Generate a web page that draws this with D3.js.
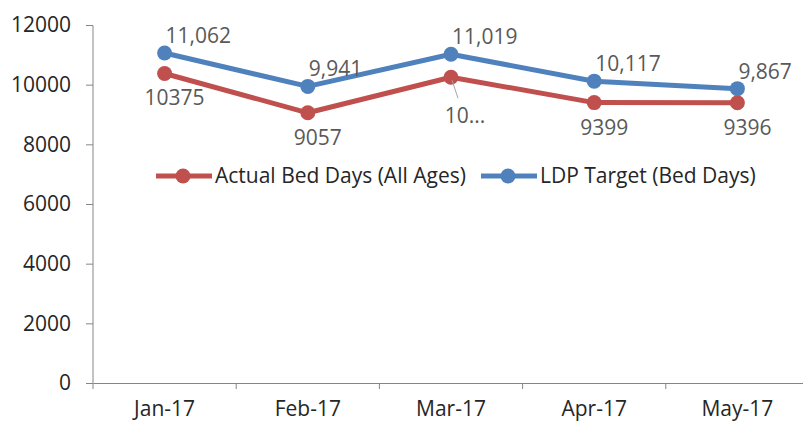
<!DOCTYPE html>
<html>
<head>
<meta charset="utf-8">
<script src="https://cdn.jsdelivr.net/npm/d3@7"></script>
<style>
  body { margin: 0; background: #fff; }
  svg text { font-family: "Open Sans", "Liberation Sans", sans-serif; }
</style>
</head>
<body>
<div id="chart-area"></div>
<script>
const months = ["Jan-17", "Feb-17", "Mar-17", "Apr-17", "May-17"];
const actual = [10375, 9057, 10250, 9399, 9396];
const target = [11062, 9941, 11019, 10117, 9867];
const actualLabels = ["10375", "9057", "10...", "9399", "9396"];
const targetLabels = ["11,062", "9,941", "11,019", "10,117", "9,867"];
const yTicks = [0, 2000, 4000, 6000, 8000, 10000, 12000];

const w = 803;
const h = 423;
const m = { t: 25, l: 93, r: -6, b: 40 };
const width = w - m.l - m.r;
const height = h - m.t - m.b;

const red = "#C0504D";
const blue = "#4F81BD";
const fs = "21px";

let svg = d3.select("#chart-area")
  .append("svg")
  .attr("width", w)
  .attr("height", h);

let g = svg.append("g")
  .attr("transform", "translate(" + m.l + "," + m.t + ")");

let x = d3.scaleBand()
  .domain(months)
  .range([0, width]);

let y = d3.scaleLinear()
  .domain([0, 12000])
  .range([height, 0]);

const cx = d => x(d) + x.bandwidth() / 2;

// axes
let yAxis = g.append("g")
  .call(d3.axisLeft(y).tickValues(yTicks).tickSize(7).tickPadding(15).tickFormat(d3.format("d")));

let xAxis = g.append("g")
  .attr("transform", "translate(0," + height + ")")
  .call(d3.axisBottom(x).tickSize(0).tickPadding(18));

// band boundary ticks on x axis
g.selectAll(".xtick")
  .data(months)
  .enter().append("line")
  .attr("x1", d => x(d))
  .attr("x2", d => x(d))
  .attr("y1", height)
  .attr("y2", height + 6)
  .attr("stroke", "#868686");

svg.selectAll(".domain").attr("stroke", "#868686");
svg.selectAll(".tick line").attr("stroke", "#868686");
svg.selectAll(".tick text")
  .attr("fill", "#262626")
  .attr("font-size", fs);
yAxis.select(".domain").attr("d", "M0," + (height + 0.5) + "V0.5");

// lines
let line = d3.line()
  .x((d, i) => cx(months[i]))
  .y(d => y(d));

function drawSeries(vals, color) {
  g.append("path")
    .datum(vals)
    .attr("fill", "none")
    .attr("stroke", color)
    .attr("stroke-width", 5)
    .attr("stroke-linejoin", "round")
    .attr("d", line);

  g.selectAll(null)
    .data(vals)
    .enter().append("circle")
    .attr("cx", (d, i) => cx(months[i]))
    .attr("cy", d => y(d))
    .attr("r", 7.5)
    .attr("fill", color);
}

drawSeries(actual, red);
drawSeries(target, blue);

// leader line for truncated Mar label
g.append("line")
  .attr("x1", cx(months[2]) + 1)
  .attr("y1", y(actual[2]) + 3)
  .attr("x2", cx(months[2]) + 7)
  .attr("y2", y(actual[2]) + 21)
  .attr("stroke", "#a6a6a6")
  .attr("stroke-width", 1);

// data labels
g.selectAll(null)
  .data(target)
  .enter().append("text")
  .attr("x", (d, i) => cx(months[i]) + 1)
  .attr("y", d => y(d) - 10)
  .attr("fill", "#595959")
  .attr("font-size", fs)
  .text((d, i) => targetLabels[i]);

g.selectAll(null)
  .data(actual)
  .enter().append("text")
  .attr("x", (d, i) => cx(months[i]) + (actualLabels[i].endsWith("...") ? 14 : 10))
  .attr("y", (d, i) => y(d) + (actualLabels[i].endsWith("...") ? 46 : 32))
  .attr("text-anchor", "middle")
  .attr("fill", "#595959")
  .attr("font-size", fs)
  .text((d, i) => actualLabels[i]);

// legend
const legend = [
  { name: "Actual Bed Days (All Ages)", color: red, x: 156 },
  { name: "LDP Target (Bed Days)", color: blue, x: 481 }
];

let lg = svg.selectAll(".legend")
  .data(legend)
  .enter().append("g")
  .attr("transform", d => "translate(" + d.x + ",176)");

lg.append("line")
  .attr("x1", 0).attr("x2", 56)
  .attr("stroke", d => d.color)
  .attr("stroke-width", 5);

lg.append("circle")
  .attr("cx", 27)
  .attr("r", 7.5)
  .attr("fill", d => d.color);

lg.append("text")
  .attr("x", 59)
  .attr("y", 7)
  .attr("fill", "#262626")
  .attr("font-size", fs)
  .text(d => d.name);
</script>
</body>
</html>
